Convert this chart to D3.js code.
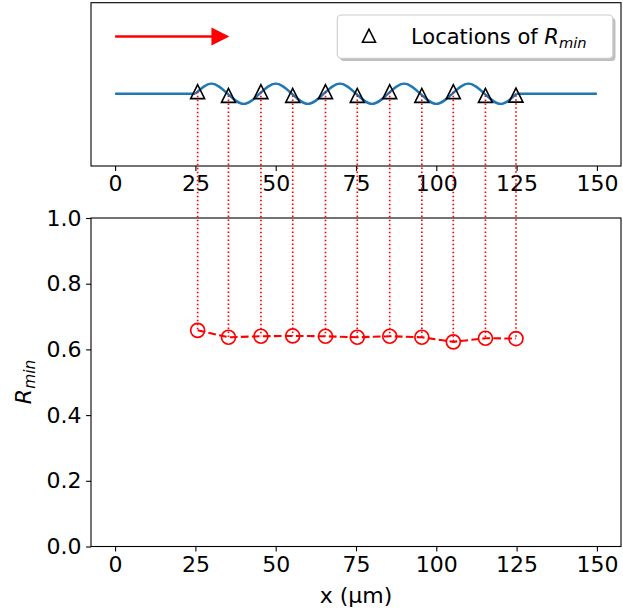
<!DOCTYPE html>
<html><head><meta charset="utf-8">
<script src="https://cdn.jsdelivr.net/npm/d3@7"></script>
<style>body{margin:0;background:#fff}svg{display:block;font-family:"DejaVu Sans",sans-serif}</style>
</head><body><svg id="c" width="623" height="616"></svg>
<script>
// ---- data ----
const xTicks = [0, 25, 50, 75, 100, 125, 150];
const yTicks = [0, 0.2, 0.4, 0.6, 0.8, 1.0];
const locX = [25.7, 35.3, 45.4, 55.3, 65.5, 75.4, 85.5, 95.5, 105.3, 115.3, 124.8];
const triY = [0.22, -0.18, 0.22, -0.18, 0.22, -0.18, 0.22, -0.18, 0.22, -0.18, -0.15];
const rmin = [0.658, 0.637, 0.640, 0.641, 0.640, 0.637, 0.640, 0.637, 0.623, 0.634, 0.633];
const flatLeftX = [0, 25], flatRightX = [125, 150];
const waveX = [25, 30, 35, 40, 45, 50, 55, 60, 65, 70, 75, 80, 85, 90, 95, 100, 105, 110, 115, 120, 125];
const waveY = [0, 1.08, 0, -1.08, 0, 1.08, 0, -1.08, 0, 1.08, 0, -1.08, 0, 1.08, 0, -1.08, 0, 1.08, 0, -1.08, 0];
const arrowX = [0, 30, 35.6], arrowY = 6.1;
const legendLabel = "Locations of ";

// ---- layout ----
const svg = d3.select("#c");
const FS = 22;
const LFS = 21;
const L = 91, R = 621;
const top1 = 2.7, bot1 = 166, top2 = 218, bot2 = 546.5;
const x = d3.scaleLinear([-7.5, 157.5], [L, R]);
const yT = d3.scaleLinear([-7.7, 9.7], [bot1, top1]);
const yB = d3.scaleLinear([0, 1], [bot2, top2]);

function styleAxis(g){
  g.selectAll(".domain").remove();
  g.selectAll(".tick line").attr("stroke","#000").attr("stroke-width",1.1);
  g.selectAll(".tick text").attr("font-size",FS).attr("fill","#000").attr("font-family","DejaVu Sans");
}

// top panel
svg.append("g").attr("transform",`translate(0,${bot1})`)
  .call(d3.axisBottom(x).tickValues(xTicks).tickSize(4.9).tickPadding(4.5).tickFormat(d3.format("d"))).call(styleAxis);
const blue = "#1f77b4";
const line = d3.line().x(d=>x(d[0])).y(d=>yT(d[1]));
svg.append("path").attr("d", line(flatLeftX.map(v=>[v,0]))).attr("stroke",blue).attr("stroke-width",2.4).attr("fill","none");
svg.append("path").attr("d", line(flatRightX.map(v=>[v,0]))).attr("stroke",blue).attr("stroke-width",2.4).attr("fill","none");
svg.append("path").attr("d", d3.line().curve(d3.curveNatural).x(d=>x(d[0])).y(d=>yT(d[1]))(waveX.map((v,i)=>[v,waveY[i]])))
  .attr("stroke",blue).attr("stroke-width",2.4).attr("fill","none");
// arrow
svg.append("line").attr("x1",x(arrowX[0])).attr("x2",x(arrowX[1])+1).attr("y1",yT(arrowY)).attr("y2",yT(arrowY))
  .attr("stroke","red").attr("stroke-width",2.6);
svg.append("path").attr("d",`M${x(arrowX[1])},${yT(arrowY)-9}L${x(arrowX[2])},${yT(arrowY)}L${x(arrowX[1])},${yT(arrowY)+9}Z`).attr("fill","red");

function tri(cx, cy, h){ return `M${cx},${cy-h}L${cx-h},${cy+h}L${cx+h},${cy+h}Z`; }
svg.append("g").selectAll("path").data(locX).join("path")
  .attr("d",(d,i)=>tri(x(d), yT(triY[i]), 7)).attr("fill","none").attr("stroke","#000").attr("stroke-width",1.6);

// legend
const lg = svg.append("g");
lg.append("rect").attr("x",340).attr("y",17.8).attr("width",275.5).attr("height",43.3).attr("rx",4).attr("fill","#808080").attr("opacity",0.5);
lg.append("rect").attr("x",337.3).attr("y",15).attr("width",275.5).attr("height",43.3).attr("rx",4).attr("fill","#fff").attr("stroke","#ccc").attr("stroke-width",1.1);
lg.append("path").attr("d",tri(369,35.7,6.5)).attr("fill","none").attr("stroke","#000").attr("stroke-width",1.6);
const lt = lg.append("text").attr("x",411).attr("y",43.5).attr("font-size",LFS).attr("fill","#000");
lt.append("tspan").text(legendLabel);
lt.append("tspan").attr("font-style","italic").text("R");
lt.append("tspan").attr("font-style","italic").attr("font-size",LFS*0.7).attr("dy",4).text("min");

svg.append("rect").attr("x",L).attr("y",top1).attr("width",R-L).attr("height",bot1-top1).attr("fill","none").attr("stroke","#000").attr("stroke-width",1.1);

// bottom panel
svg.append("g").attr("transform",`translate(0,${bot2})`)
  .call(d3.axisBottom(x).tickValues(xTicks).tickSize(4.9).tickPadding(4.5).tickFormat(d3.format("d"))).call(styleAxis);
svg.append("g").attr("transform",`translate(${L},0)`)
  .call(d3.axisLeft(yB).tickValues(yTicks).tickSize(4.9).tickPadding(4.5).tickFormat(d3.format(".1f"))).call(styleAxis);

svg.append("path").attr("d", d3.line().x((d,i)=>x(locX[i])).y(d=>yB(d))(rmin))
  .attr("fill","none").attr("stroke","red").attr("stroke-width",2.1).attr("stroke-dasharray","7.7,3.3");
svg.append("g").selectAll("circle").data(rmin).join("circle")
  .attr("cx",(d,i)=>x(locX[i])).attr("cy",d=>yB(d)).attr("r",7)
  .attr("fill","none").attr("stroke","red").attr("stroke-width",1.7);

svg.append("rect").attr("x",L).attr("y",top2).attr("width",R-L).attr("height",bot2-top2).attr("fill","none").attr("stroke","#000").attr("stroke-width",1.1);

// connectors
svg.append("g").selectAll("line").data(locX).join("line")
  .attr("x1",d=>x(d)).attr("x2",d=>x(d))
  .attr("y1",(d,i)=>yT(triY[i])).attr("y2",(d,i)=>yB(rmin[i]))
  .attr("stroke","red").attr("stroke-width",1.7).attr("stroke-dasharray","1.7,2.3");

// labels
svg.append("text").attr("x",(L+R)/2).attr("y",603).attr("text-anchor","middle").attr("font-size",FS).attr("fill","#000").text("x (μm)");
const yl = svg.append("text").attr("transform","translate(31,382) rotate(-90)").attr("text-anchor","middle").attr("font-size",FS).attr("fill","#000");
yl.append("tspan").attr("font-style","italic").text("R");
yl.append("tspan").attr("font-style","italic").attr("font-size",FS*0.7).attr("dy",4).text("min");
</script></body></html>
